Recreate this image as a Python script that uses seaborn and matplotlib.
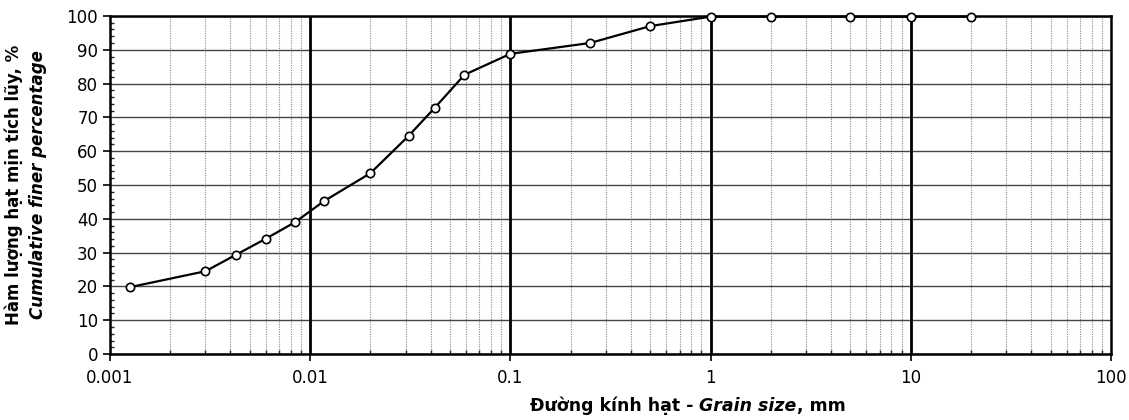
import numpy as np
import pandas as pd
import matplotlib
matplotlib.use("Agg")
import matplotlib.pyplot as plt
import seaborn as sns
from matplotlib.ticker import LogLocator, FixedLocator, MultipleLocator, FixedFormatter

# Grain size distribution (sieve + hydrometer)
grain_size_mm = [0.00126, 0.003, 0.00427, 0.006, 0.0084, 0.0117, 0.02,
                 0.031, 0.042, 0.059, 0.1, 0.25, 0.5, 1, 2, 5, 10, 20]
percent_finer = [19.8, 24.5, 29.4, 34.1, 39.0, 45.2, 53.5,
                 64.5, 72.9, 82.6, 88.8, 92.0, 97.0, 99.8, 99.8, 99.8, 99.8, 99.8]

x_ticks = [0.001, 0.01, 0.1, 1, 10, 100]
x_tick_labels = ["0.001", "0.01", "0.1", "1", "10", "100"]
y_ticks = list(range(0, 101, 10))

df = pd.DataFrame({"d": grain_size_mm, "p": percent_finer})

sns.set_style("white")
plt.rcParams["font.family"] = ["DejaVu Sans"]
plt.rcParams["text.color"] = "black"

fig = plt.figure(figsize=(11.29, 4.2), dpi=100)
ax = fig.add_axes([0.0974, 0.157, 0.8866, 0.805])

ax.set_xscale("log")
ax.set_xlim(0.001, 100)
ax.set_ylim(0, 100)

# minor dotted grid on the log axis
ax.xaxis.set_minor_locator(LogLocator(base=10, subs=np.arange(2, 10)))
ax.grid(which="minor", axis="x", linestyle=(0, (1, 1.2)), color="#888888", linewidth=0.8)
# horizontal grid every 10 %
ax.yaxis.set_major_locator(FixedLocator(y_ticks))
ax.yaxis.set_minor_locator(MultipleLocator(2))
ax.grid(which="major", axis="y", linestyle="-", color="#444444", linewidth=1.0)
# heavy decade lines
for xv in x_ticks[1:-1]:
    ax.axvline(xv, color="black", linewidth=2.0, zorder=1.5)

sns.lineplot(data=df, x="d", y="p", ax=ax, color="black", linewidth=1.6,
             marker="o", markersize=6, markerfacecolor="white",
             markeredgecolor="black", markeredgewidth=1.2, zorder=5, clip_on=False)

ax.xaxis.set_major_locator(FixedLocator(x_ticks))
ax.xaxis.set_major_formatter(FixedFormatter(x_tick_labels))

for s in ax.spines.values():
    s.set_color("black")
    s.set_linewidth(1.8)

ax.tick_params(axis="both", which="major", direction="out", length=5, width=1.2,
               labelsize=12, colors="black", left=True, bottom=True)
ax.tick_params(axis="both", which="minor", direction="in", length=3, width=1.0,
               left=True, bottom=True)
ax.tick_params(axis="x", pad=6)

ax.set_xlabel("")
ax.set_ylabel("")

# x-axis title built from bold upright and bold italic pieces
fs = 12.5
fig.canvas.draw()
renderer = fig.canvas.get_renderer()
pieces = [("Đường kính hạt - ", "normal"), ("Grain size", "italic"), (", mm", "normal")]
texts = []
for s, st in pieces:
    t = fig.text(0, 0, s, fontsize=fs, fontweight="bold", style=st, ha="left",
                 va="baseline", color="black")
    texts.append(t)
widths = [t.get_window_extent(renderer).width for t in texts]
total = sum(widths)
x0 = 0.609 * fig.bbox.width - total / 2
y_base = 9
for t, w in zip(texts, widths):
    t.set_transform(None)
    t.set_position((x0, y_base))
    x0 += w

fig.text(0.012, 0.56, "Hàm lượng hạt mịn tích lũy, %", rotation=90,
         ha="center", va="center", fontsize=12, fontweight="bold", color="black")
fig.text(0.0335, 0.56, "Cumulative finer percentage", rotation=90,
         ha="center", va="center", fontsize=12, fontweight="bold", style="italic",
         color="black")

fig.savefig("out.png", dpi=100)
